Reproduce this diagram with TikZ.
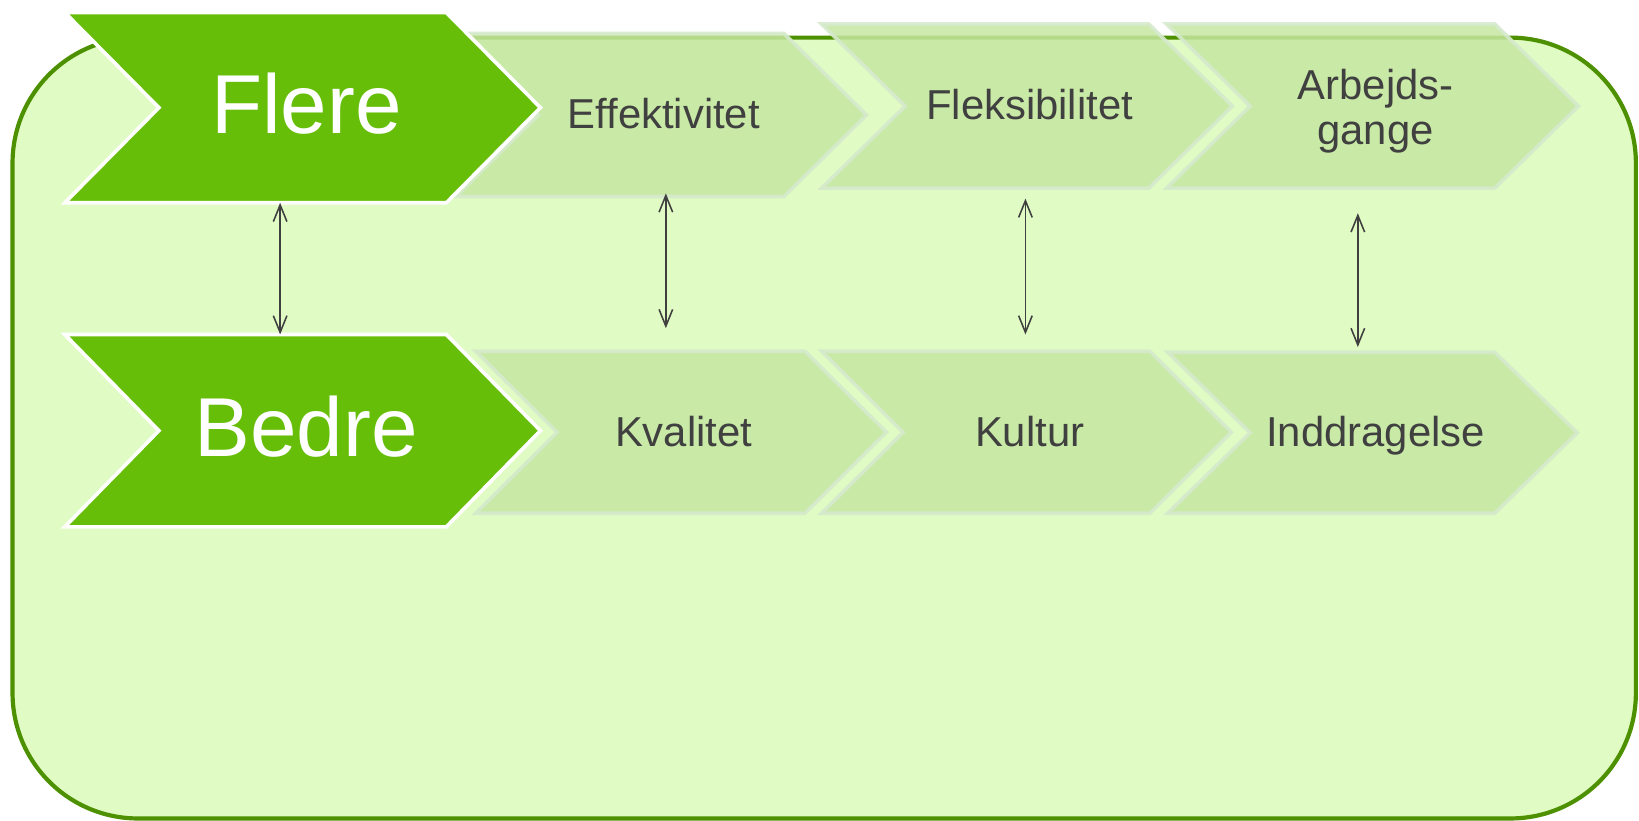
\documentclass[tikz,border=0pt]{standalone}
\usepackage{fontspec}
\setmainfont{Liberation Sans}
\usetikzlibrary{arrows.meta}
\definecolor{bgfill}{HTML}{E0FBC3}
\definecolor{bgline}{HTML}{4E9100}
\definecolor{darkchev}{HTML}{66BE08}
\definecolor{lightchev}{HTML}{C6E7A2}
\definecolor{lightline}{HTML}{D6EACC}
\definecolor{txtgray}{HTML}{404040}
% options, x, ytop, width, depth, height
\newcommand\chevshape[6][]{%
  \path[#1] (#2,#3) -- ({#2+#4},#3) -- ({#2+#4+#5},{#3+#6/2}) -- ({#2+#4},{#3+#6})
    -- (#2,{#3+#6}) -- ({#2+#5},{#3+#6/2}) -- cycle;}
\begin{document}
\begin{tikzpicture}[x=1pt,y=-1pt,
  darkstyle/.style={fill=darkchev,draw=white,line width=3.5pt,line join=miter},
  lightstyle/.style={fill=lightchev,fill opacity=0.85,draw=lightline,draw opacity=0.9,line width=3.5pt},
  bigtxt/.style={text=white,font=\fontsize{80pt}{96pt}\selectfont,anchor=base,inner sep=0pt},
  smalltxt/.style={text=txtgray,font=\fontsize{40pt}{43pt}\selectfont,anchor=base,inner sep=0pt},
  dbl/.style={draw=txtgray,line width=1.5pt,{Straight Barb[length=16pt,width=13pt]}-{Straight Barb[length=16pt,width=13pt]}}]
\useasboundingbox (0,0) rectangle (1568,785);
\fill[white] (0,0) rectangle (1568,785);
% background panel
\draw[line width=4pt,draw=bgline,fill=bgfill,rounded corners=120pt] (12,36) rectangle (1565,783);
% light chevrons
\chevshape[lightstyle]{436}{32}{314}{79}{156}
\chevshape[lightstyle]{786}{23}{313}{80}{157}
\chevshape[lightstyle]{1116}{23}{314}{80}{157}
\chevshape[lightstyle]{455}{336}{315}{78}{155}
\chevshape[lightstyle]{786}{336}{314}{78}{155}
\chevshape[lightstyle]{1117}{337}{313}{79}{154}
% dark chevrons
\chevshape[darkstyle]{62}{12}{365}{90}{182}
\chevshape[darkstyle]{62}{320}{365}{90}{184}
% texts
\node[bigtxt] (flere) at (293,128) {Flere};
\node[bigtxt] (bedre) at (293,437) {Bedre};
\node[smalltxt] (eff) at (635,123) {Effektivitet};
\node[smalltxt] (fleks) at (985,114) {Fleksibilitet};
\node[smalltxt,anchor=center,align=center] (arb) at (1316,106) {Arbejds-\\gange};
\node[smalltxt] (kval) at (654,427) {Kvalitet};
\node[smalltxt] (kult) at (985,427) {Kultur};
\node[smalltxt] (indd) at (1316,427) {Inddragelse};
% arrows
\coordinate (a1t) at (268,194); \coordinate (a1b) at (268,320);
\coordinate (a2t) at (637,185); \coordinate (a2b) at (637,314);
\coordinate (a3t) at (981,190); \coordinate (a3b) at (981,320);
\coordinate (a4t) at (1299,204); \coordinate (a4b) at (1299,332);
\draw[dbl] (a1t) -- (a1b);
\draw[dbl] (a2t) -- (a2b);
\draw[dbl] (a3t) -- (a3b);
\draw[dbl] (a4t) -- (a4b);
\end{tikzpicture}
\end{document}
